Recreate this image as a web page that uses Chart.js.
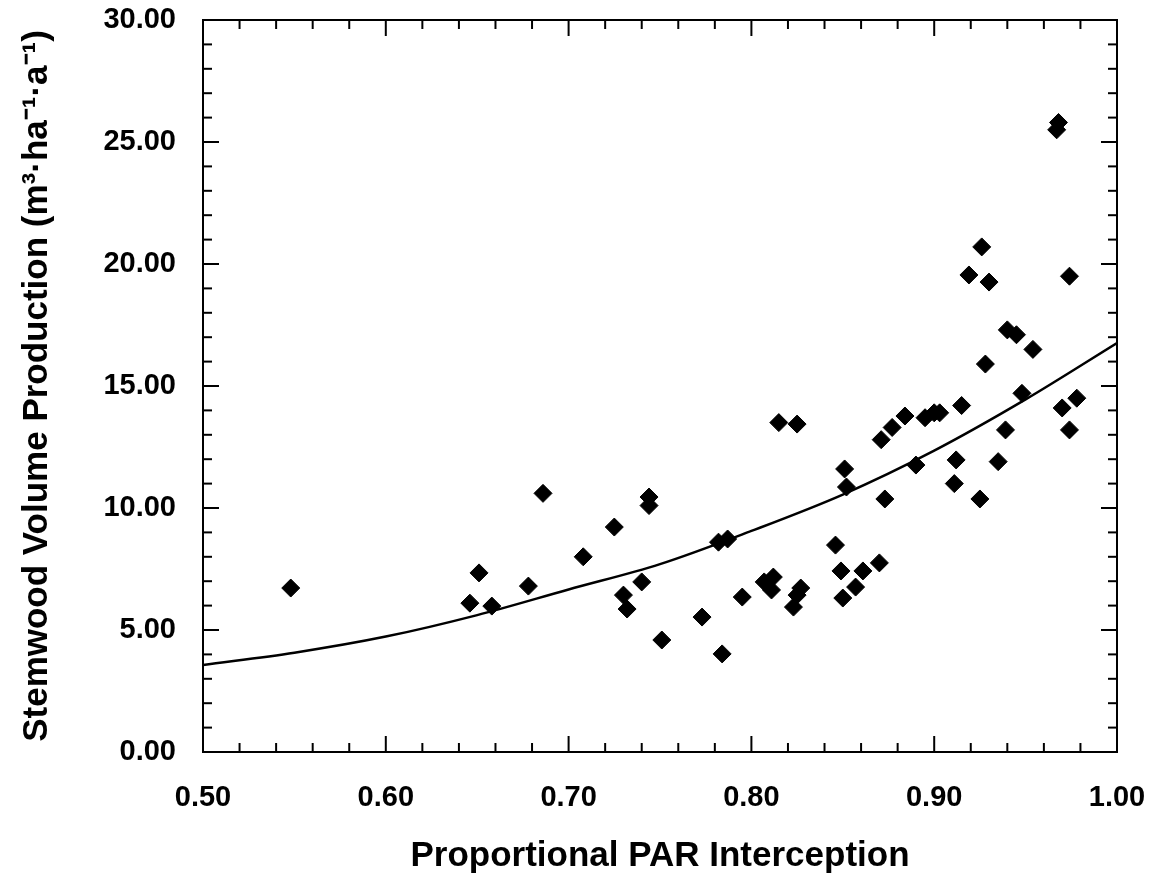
<!DOCTYPE html>
<html>
<head>
<meta charset="utf-8">
<script src="https://cdn.jsdelivr.net/npm/chart.js@4/dist/chart.umd.min.js"></script>
<style>
    html, body { margin: 0; padding: 0; background: #fff; }
    #wrap { width: 1155px; height: 880px; }
</style>
</head>
<body>
<div id="wrap"><canvas id="parChart"></canvas></div>
<script>
// measured plots: PAR interception vs stemwood volume
const parX = [
    0.548, 0.646, 0.651, 0.658, 0.678, 0.686, 0.708, 0.725, 0.730, 0.732,
    0.740, 0.744, 0.744, 0.751, 0.773, 0.782, 0.787, 0.784, 0.795, 0.807,
    0.812, 0.811, 0.815, 0.825, 0.823, 0.825, 0.827, 0.846, 0.849, 0.850,
    0.851, 0.852, 0.857, 0.861, 0.870, 0.871, 0.873, 0.877, 0.884, 0.890,
    0.895, 0.900, 0.903, 0.912, 0.911, 0.915, 0.919, 0.926, 0.925, 0.930,
    0.928, 0.935, 0.939, 0.940, 0.945, 0.948, 0.954, 0.968, 0.967, 0.970,
    0.974, 0.974, 0.978,
];
const volumeY = [
    6.72, 6.10, 7.34, 5.98, 6.80, 10.60, 8.00, 9.22, 6.43, 5.86,
    6.97, 10.45, 10.10, 4.59, 5.53, 8.60, 8.73, 4.02, 6.35, 6.97,
    7.17, 6.64, 13.50, 13.44, 5.94, 6.43, 6.72, 8.48, 7.42, 6.31,
    11.60, 10.86, 6.76, 7.42, 7.75, 12.80, 10.37, 13.30, 13.77, 11.76,
    13.70, 13.90, 13.90, 11.97, 11.00, 14.20, 19.55, 20.70, 10.37, 19.26,
    15.90, 11.90, 13.20, 17.30, 17.10, 14.70, 16.50, 25.80, 25.50, 14.10,
    19.50, 13.20, 14.50,
];

// fitted curve
const curveX = [0.50, 0.55, 0.60, 0.65, 0.70, 0.75, 0.80, 0.85, 0.90, 0.95, 1.00];
const curveY = [3.57, 4.07, 4.73, 5.61, 6.66, 7.70, 9.06, 10.55, 12.35, 14.45, 16.76];

const X_MIN = 0.5, X_MAX = 1.0, X_STEP = 0.1, X_MINOR = 0.02;
const Y_MIN = 0, Y_MAX = 30, Y_STEP = 5, Y_MINOR = 1;

const FONT = "'Liberation Sans', Arial, Helvetica, sans-serif";

let frameTicks = {
    id: "frameTicks",
    afterDatasetsDraw: (chart) => {
        const { ctx, chartArea: a, scales } = chart;
        const line = (x1, y1, x2, y2) => {
            ctx.beginPath();
            ctx.moveTo(x1, y1);
            ctx.lineTo(x2, y2);
            ctx.stroke();
        };
        ctx.save();
        ctx.strokeStyle = "#000";
        ctx.lineWidth = 2;
        ctx.strokeRect(a.left, a.top, a.right - a.left, a.bottom - a.top);

        let n = Math.round((X_MAX - X_MIN) / X_MINOR);
        for (let i = 1; i < n; i++) {
            let px = scales.x.getPixelForValue(X_MIN + i * X_MINOR);
            let len = i % 5 === 0 ? 16 : 9;
            line(px, a.bottom, px, a.bottom - len);
            line(px, a.top, px, a.top + len);
        }
        n = Math.round((Y_MAX - Y_MIN) / Y_MINOR);
        for (let i = 1; i < n; i++) {
            let py = scales.y.getPixelForValue(Y_MIN + i * Y_MINOR);
            let len = i % 5 === 0 ? 16 : 9;
            line(a.left, py, a.left + len, py);
            line(a.right, py, a.right - len, py);
        }
        ctx.restore();
    },
};

const points = parX.map((x, i) => ({ x: x, y: volumeY[i] }));
const curve = curveX.map((x, i) => ({ x: x, y: curveY[i] }));

new Chart(document.getElementById("parChart"), {
    type: "scatter",
    data: {
        datasets: [
            {
                label: "Fit",
                type: "line",
                data: curve,
                borderColor: "#000",
                borderWidth: 2.5,
                pointRadius: 0,
                fill: false,
                tension: 0.4,
                cubicInterpolationMode: "monotone",
            },
            {
                label: "Plots",
                data: points,
                pointStyle: "rectRot",
                pointRadius: 9,
                backgroundColor: "#000",
                borderColor: "#000",
                borderWidth: 1,
            },
        ],
    },
    options: {
        responsive: true,
        maintainAspectRatio: false,
        animation: false,
        layout: { padding: { left: 0, right: 38, top: 20, bottom: 0 } },
        plugins: {
            legend: { display: false },
            tooltip: { enabled: false },
        },
        scales: {
            x: {
                type: "linear",
                min: X_MIN,
                max: X_MAX,
                grid: { display: false, drawTicks: false },
                border: { display: false },
                afterFit: (scale) => {
                    scale.height = 128;
                    scale.paddingLeft = 0;
                    scale.paddingRight = 0;
                },
                ticks: {
                    stepSize: X_STEP,
                    padding: 29,
                    color: "#000",
                    font: { family: FONT, size: 29, weight: "bold" },
                    callback: (v) => Number(v).toFixed(2),
                },
                title: {
                    display: true,
                    text: "Proportional PAR Interception",
                    color: "#000",
                    font: { family: FONT, size: 35, weight: "bold" },
                    padding: { top: 0, bottom: 3 },
                },
            },
            y: {
                type: "linear",
                min: Y_MIN,
                max: Y_MAX,
                grid: { display: false, drawTicks: false },
                border: { display: false },
                afterFit: (scale) => {
                    scale.width = 203;
                    scale.paddingTop = 0;
                    scale.paddingBottom = 0;
                },
                ticks: {
                    stepSize: Y_STEP,
                    padding: 27,
                    color: "#000",
                    font: { family: FONT, size: 29, weight: "bold" },
                    callback: (v) => Number(v).toFixed(2),
                },
                title: {
                    display: true,
                    text: "Stemwood Volume Production (m³·ha⁻¹·a⁻¹)",
                    color: "#000",
                    font: { family: FONT, size: 35, weight: "bold" },
                    padding: { top: 16, bottom: 0 },
                },
            },
        },
    },
    plugins: [frameTicks],
});
</script>
</body>
</html>
